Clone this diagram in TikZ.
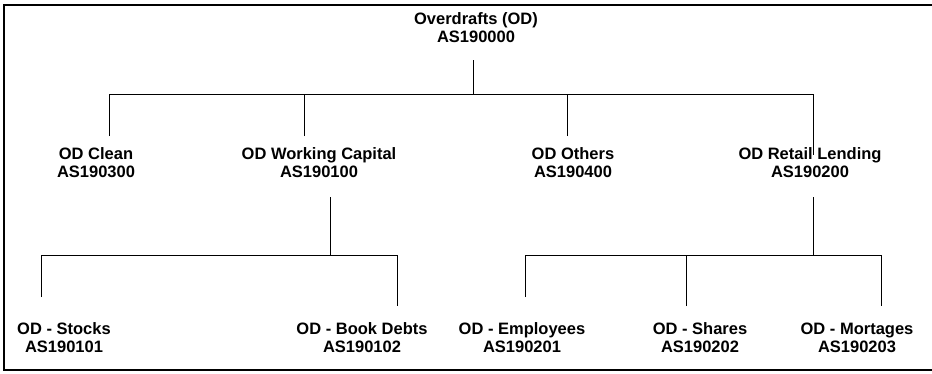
\documentclass[tikz,border=0pt]{standalone}
\usepackage{fontspec}
\setmainfont{Liberation Sans}
\newcommand\Code[1]{AS#1}

\begin{document}
\begin{tikzpicture}[x=1pt,y=-1pt,
    acct/.style={align=center,inner sep=0pt,font=\bfseries\fontsize{16.5}{18}\selectfont},
    wire/.style={line width=1pt}]
        \useasboundingbox (0,0) rectangle (932,373);
        \draw[line width=2pt] (4,4.5) rectangle (936,370);
        % top level
        \node[acct] (od) at (476,28) {Overdrafts (OD)\\\Code{190000}};
        \coordinate (od-t) at (473,60);
        \coordinate (od-j) at (473,94.5);
        % second level
        \node[acct] (clean) at (96,163) {OD Clean\\\Code{190300}};
        \node[acct] (wcap) at (319,163) {OD Working Capital\\\Code{190100}};
        \node[acct] (others) at (573,163) {OD Others\\\Code{190400}};
        \node[acct] (retail) at (810,163) {OD Retail Lending\\\Code{190200}};
        \coordinate (clean-e) at (109,136);
        \coordinate (wcap-e) at (304,136);
        \coordinate (others-e) at (567,136);
        \coordinate (retail-e) at (813,155);
        \draw[wire] (od-t) -- (od-j);
        \draw[wire] (clean-e) -- (clean-e |- od-j) -- (retail-e |- od-j) -- (retail-e);
        \draw[wire] (wcap-e) -- (wcap-e |- od-j);
        \draw[wire] (others-e) -- (others-e |- od-j);
        % third level, working capital
        \node[acct] (stocks) at (64,337.5) {OD - Stocks\\\Code{190101}};
        \node[acct] (bookdebts) at (362,337.5) {OD - Book Debts\\\Code{190102}};
        \coordinate (wcap-t) at (330,197);
        \coordinate (wcap-j) at (330,255.7);
        \coordinate (stocks-e) at (41,297);
        \coordinate (bookdebts-e) at (397,306);
        \draw[wire] (wcap-t) -- (wcap-j);
        \draw[wire] (stocks-e) -- (stocks-e |- wcap-j) -- (bookdebts-e |- wcap-j) -- (bookdebts-e);
        % third level, retail lending
        \node[acct] (employees) at (522,337.5) {OD - Employees\\\Code{190201}};
        \node[acct] (shares) at (700,337.5) {OD - Shares\\\Code{190202}};
        \node[acct] (mortages) at (857,337.5) {OD - Mortages\\\Code{190203}};
        \coordinate (retail-t) at (813,197);
        \coordinate (retail-j) at (813,255.7);
        \coordinate (employees-e) at (525,297);
        \coordinate (shares-e) at (686,306);
        \coordinate (mortages-e) at (881,306);
        \draw[wire] (retail-t) -- (retail-j);
        \draw[wire] (employees-e) -- (employees-e |- retail-j) -- (mortages-e |- retail-j) -- (mortages-e);
        \draw[wire] (shares-e) -- (shares-e |- retail-j);
\end{tikzpicture}
\end{document}
